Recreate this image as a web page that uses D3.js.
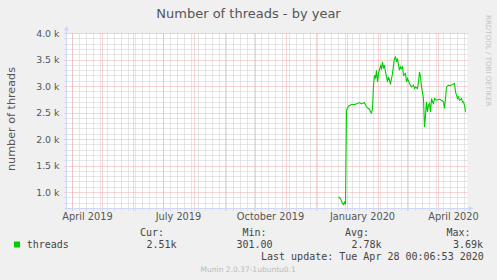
<!DOCTYPE html>
<html>
<head>
<meta charset="utf-8">
<script src="https://cdn.jsdelivr.net/npm/d3@7"></script>
<style>
  body { margin: 0; background: #f0f0f0; }
  svg { display: block; }
  text { font-family: "DejaVu Sans", sans-serif; fill: #555; }
  .mono { font-family: "DejaVu Sans Mono", monospace; font-size: 10px; fill: #444; }
</style>
</head>
<body>
<div id="chart"></div>
<script>
/* global d3 */

let threadDates = [
    "2019-12-23", "2019-12-25", "2019-12-27", "2019-12-28", "2019-12-29", "2019-12-30", "2019-12-31",
    "2020-01-02", "2020-01-05", "2020-01-08", "2020-01-11", "2020-01-13", "2020-01-15", "2020-01-18",
    "2020-01-19", "2020-01-21", "2020-01-23", "2020-01-24", "2020-01-25", "2020-01-26", "2020-01-27",
    "2020-01-28", "2020-01-29", "2020-01-30", "2020-01-31", "2020-02-01", "2020-02-03", "2020-02-04",
    "2020-02-05", "2020-02-06", "2020-02-07", "2020-02-08", "2020-02-09", "2020-02-10", "2020-02-11",
    "2020-02-12", "2020-02-13", "2020-02-14", "2020-02-15", "2020-02-16", "2020-02-17", "2020-02-18",
    "2020-02-19", "2020-02-20", "2020-02-21", "2020-02-22", "2020-02-23", "2020-02-24", "2020-02-25",
    "2020-02-26", "2020-02-28", "2020-02-29", "2020-03-01", "2020-03-03", "2020-03-04", "2020-03-05",
    "2020-03-07", "2020-03-08", "2020-03-09", "2020-03-11", "2020-03-12", "2020-03-13", "2020-03-14",
    "2020-03-15", "2020-03-17", "2020-03-18", "2020-03-19", "2020-03-20", "2020-03-21", "2020-03-22",
    "2020-03-23", "2020-03-24", "2020-03-25", "2020-03-26", "2020-03-27", "2020-03-28", "2020-03-30",
    "2020-04-02", "2020-04-04", "2020-04-06", "2020-04-07", "2020-04-08", "2020-04-09", "2020-04-11",
    "2020-04-12", "2020-04-15", "2020-04-17", "2020-04-18", "2020-04-20", "2020-04-21", "2020-04-22",
    "2020-04-24", "2020-04-25", "2020-04-26", "2020-04-27", "2020-04-28"
];
let threadValues = [
    917, 887, 790, 775, 820, 775, 2553,
    2628, 2660, 2660, 2679, 2698, 2672, 2698,
    2647, 2596, 2572, 2521, 2502, 2585, 3025,
    3213, 3151, 3308, 3087, 3245, 3389, 3340,
    3464, 3340, 3402, 3275, 3181, 3087, 3181,
    3119, 3038, 3151, 3245, 3402, 3528, 3558,
    3464, 3528, 3402, 3308, 3370, 3336, 3370,
    3213, 3245, 3087, 3151, 3057, 3025, 2992,
    3025, 2962, 2992, 2962, 3087, 3275, 3181,
    2992, 2774, 2238, 2460, 2710, 2521, 2647,
    2679, 2521, 2774, 2710, 2679, 2774, 2742,
    2760, 2742, 2710, 2585, 2774, 2992, 3025,
    3012, 3038, 3057, 2900, 2774, 2805, 2742,
    2774, 2710, 2710, 2647, 2521
];

let yMajorTicks = [1000, 1500, 2000, 2500, 3000, 3500, 4000];
let xLabelMonths = ["2019-04-01", "2019-07-01", "2019-10-01", "2020-01-01", "2020-04-01"];

let legendHeads = ["Cur:", "Min:", "Avg:", "Max:"];
let legendValues = ["2.51k", "301.00", "2.78k", "3.69k"];

// Chart setup //

let SVGwidth = 497,
    SVGheight = 280,
    plot = {left: 66.5, right: 466.5, top: 33.5, bottom: 208.5};

let parseDay = d3.utcParse("%Y-%m-%d");
let data = threadDates.map(function(d, i) { return {date: parseDay(d), value: threadValues[i]}; });

let tStart = new Date(Date.UTC(2019, 2, 26)),
    tEnd = new Date(Date.UTC(2020, 3, 29));

let xScale = d3.scaleUtc().domain([tStart, tEnd]).range([plot.left, plot.right]);
let yScale = d3.scaleLinear().domain([700, 4000]).range([plot.bottom, plot.top]);

let svg = d3.select("#chart").append("svg")
    .attr("width", SVGwidth)
    .attr("height", SVGheight);

svg.append("rect")
    .attr("width", SVGwidth)
    .attr("height", SVGheight)
    .attr("fill", "#f0f0f0");

svg.append("rect")
    .attr("x", plot.left)
    .attr("y", plot.top)
    .attr("width", plot.right - plot.left + 1)
    .attr("height", plot.bottom - plot.top)
    .attr("fill", "#ffffff");

function px(v) { return Math.round(v - 0.5) + 0.5; }

// grid: minor first, then major on top
let grid = svg.append("g");
let minorColor = "#cdcdcd",
    majorColor = "#f4a8a8";

let yMinor = d3.range(800, 4000, 100).filter(function(v) { return v % 500 !== 0; });
grid.selectAll(".yMinor").data(yMinor).enter().append("line")
    .attr("x1", plot.left - 2).attr("x2", plot.right + 1)
    .attr("y1", function(d) { return px(yScale(d)); })
    .attr("y2", function(d) { return px(yScale(d)); })
    .attr("stroke", minorColor).attr("stroke-dasharray", "1,1");

let xMinor = d3.utcMonday.range(tStart, tEnd);
grid.selectAll(".xMinor").data(xMinor).enter().append("line")
    .attr("x1", function(d) { return px(xScale(d)); })
    .attr("x2", function(d) { return px(xScale(d)); })
    .attr("y1", plot.top).attr("y2", plot.bottom + 2)
    .attr("stroke", minorColor).attr("stroke-dasharray", "1,1");

grid.selectAll(".yMajor").data(yMajorTicks).enter().append("line")
    .attr("x1", plot.left - 2).attr("x2", plot.right + 1)
    .attr("y1", function(d) { return px(yScale(d)); })
    .attr("y2", function(d) { return px(yScale(d)); })
    .attr("stroke", majorColor).attr("stroke-dasharray", "1,1");

let xMajor = d3.utcMonth.range(tStart, tEnd);
grid.selectAll(".xMajor").data(xMajor).enter().append("line")
    .attr("x1", function(d) { return px(xScale(d)); })
    .attr("x2", function(d) { return px(xScale(d)); })
    .attr("y1", plot.top).attr("y2", plot.bottom + 2)
    .attr("stroke", majorColor).attr("stroke-dasharray", "1,1");

// axes with arrows
let axisColor = "#cfd6f8";
svg.append("line")
    .attr("x1", plot.left).attr("x2", plot.left)
    .attr("y1", plot.bottom + 2).attr("y2", plot.top - 4)
    .attr("stroke", axisColor);
svg.append("path")
    .attr("d", "M" + (plot.left - 2.5) + "," + (plot.top - 3) + "L" + (plot.left + 2.5) + "," + (plot.top - 3) + "L" + plot.left + "," + (plot.top - 8) + "Z")
    .attr("fill", axisColor);
svg.append("line")
    .attr("x1", plot.left - 2).attr("x2", plot.right + 3)
    .attr("y1", plot.bottom).attr("y2", plot.bottom)
    .attr("stroke", axisColor);
svg.append("path")
    .attr("d", "M" + (plot.right + 2) + "," + (plot.bottom - 2.5) + "L" + (plot.right + 2) + "," + (plot.bottom + 2.5) + "L" + (plot.right + 7) + "," + plot.bottom + "Z")
    .attr("fill", axisColor);

// y tick labels
let fmtK = d3.format(".1f");
svg.selectAll(".yLabel").data(yMajorTicks).enter().append("text")
    .attr("x", 59.5)
    .attr("y", function(d) { return yScale(d) + 3.3; })
    .attr("text-anchor", "end")
    .style("font-size", "9.4px")
    .text(function(d) { return fmtK(d / 1000) + " k"; });

// x labels, centred half a month after the month start
svg.selectAll(".xLabel").data(xLabelMonths).enter().append("text")
    .attr("x", function(d) { return xScale(d3.utcDay.offset(parseDay(d), 15)); })
    .attr("y", 220)
    .attr("text-anchor", "middle")
    .style("font-size", "9.8px")
    .text(function(d) { return d3.utcFormat("%B %Y")(parseDay(d)); });

// the series
let line = d3.line()
    .x(function(d) { return xScale(d.date); })
    .y(function(d) { return yScale(d.value); });

svg.append("path")
    .datum(data)
    .attr("d", line)
    .attr("fill", "none")
    .attr("stroke", "#00cc00")
    .attr("stroke-width", 1.1);

// titles
svg.append("text")
    .attr("x", 248.5)
    .attr("y", 18)
    .attr("text-anchor", "middle")
    .style("font-size", "13px")
    .text("Number of threads - by year");

svg.append("text")
    .attr("transform", "translate(14.8," + 119 + ") rotate(-90)")
    .attr("text-anchor", "middle")
    .style("font-size", "11.2px")
    .text("number of threads");

svg.append("text")
    .attr("transform", "translate(485.7,15) rotate(90)")
    .style("font-size", "7.1px")
    .style("fill", "#c4c4c4")
    .text("RRDTOOL / TOBI OETIKER");

// legend
svg.append("rect")
    .attr("x", 14).attr("y", 241.5)
    .attr("width", 6).attr("height", 6)
    .attr("fill", "#00cc00");

svg.append("text").attr("class", "mono")
    .attr("x", 26.7).attr("y", 248)
    .text("threads");

let headX = [140, 242.5, 345, 446.5];
let valueX = [146.5, 236.5, 351.5, 453];

svg.selectAll(".legHead").data(legendHeads).enter().append("text")
    .attr("class", "mono")
    .attr("x", function(d, i) { return headX[i]; })
    .attr("y", 236)
    .text(function(d) { return d; });

svg.selectAll(".legVal").data(legendValues).enter().append("text")
    .attr("class", "mono")
    .attr("x", function(d, i) { return valueX[i]; })
    .attr("y", 248)
    .text(function(d) { return d; });

svg.append("text").attr("class", "mono")
    .attr("x", 261).attr("y", 260)
    .text("Last update: Tue Apr 28 00:06:53 2020");

svg.append("text")
    .attr("x", 248.2).attr("y", 272)
    .attr("text-anchor", "middle")
    .style("font-size", "7.5px")
    .style("fill", "#bbbbbb")
    .text("Munin 2.0.37-1ubuntu0.1");
</script>
</body>
</html>
